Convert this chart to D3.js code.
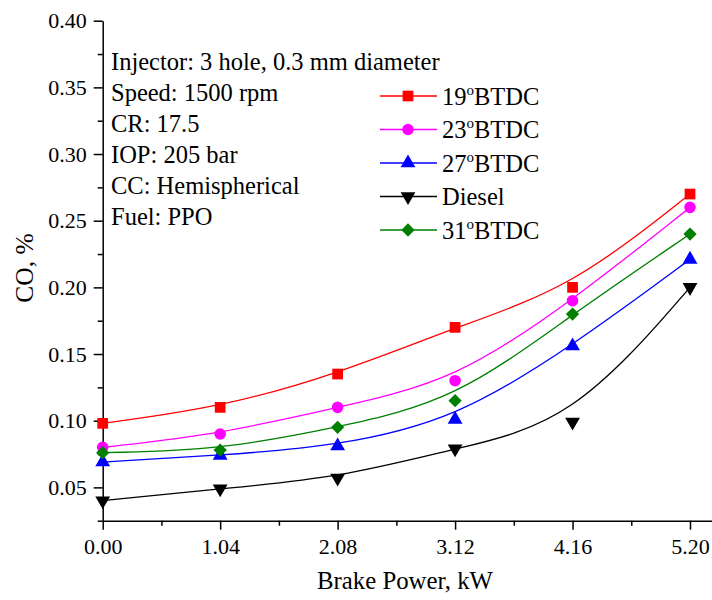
<!DOCTYPE html>
<html>
<head>
<meta charset="utf-8">
<script src="https://cdn.jsdelivr.net/npm/d3@7"></script>
<style>
  body { margin: 0; background: #fff; }
  svg { display: block; font-family: "Liberation Serif", "Times New Roman", serif; }
</style>
</head>
<body>
<svg id="chart" width="712" height="600"></svg>
<script>
// ---- data ----
const xValues = [0.00, 1.04, 2.08, 3.12, 4.16, 5.20];
const xTickLabels = ["0.00", "1.04", "2.08", "3.12", "4.16", "5.20"];
const yTickValues = [0.05, 0.10, 0.15, 0.20, 0.25, 0.30, 0.35, 0.40];

const seriesNames = ["19", "23", "27", "Diesel", "31"];
const btdc19 = [0.098, 0.110, 0.135, 0.170, 0.200, 0.270];
const btdc23 = [0.080, 0.090, 0.110, 0.130, 0.190, 0.260];
const btdc27 = [0.069, 0.074, 0.081, 0.101, 0.156, 0.221];
const diesel = [0.040, 0.049, 0.057, 0.079, 0.099, 0.200];
const btdc31 = [0.076, 0.078, 0.095, 0.115, 0.180, 0.240];

const annotationLines = [
  "Injector: 3 hole, 0.3 mm diameter",
  "Speed: 1500 rpm",
  "CR: 17.5",
  "IOP: 205 bar",
  "CC: Hemispherical",
  "Fuel: PPO"
];

const series = [
  { name: seriesNames[0], deg: true,  values: btdc19, color: "#ff0000", symbol: d3.symbolSquare,   size: 115, rot: 0 },
  { name: seriesNames[1], deg: true,  values: btdc23, color: "#ff00ff", symbol: d3.symbolCircle,   size: 105, rot: 0 },
  { name: seriesNames[2], deg: true,  values: btdc27, color: "#0000ff", symbol: d3.symbolTriangle, size: 95,  rot: 0 },
  { name: seriesNames[3], deg: false, values: diesel, color: "#000000", symbol: d3.symbolTriangle, size: 95,  rot: 180 },
  { name: seriesNames[4], deg: true,  values: btdc31, color: "#008000", symbol: d3.symbolSquare,   size: 88,  rot: 45 }
];

// ---- layout ----
const svg = d3.select("#chart");
const x = d3.scaleLinear().domain([0, 5.4]).range([102.7, 712.6]);
const y = d3.scaleLinear().domain([0.025, 0.40]).range([520.7, 20.7]);

const axisColor = "#000";

// minor ticks
const xMinor = d3.range(0, 11).map(i => i * 0.52).filter(v => v <= 5.4 && Math.round(v / 0.52) % 2 === 1);
const yMinor = d3.range(0, 16).map(i => 0.025 + i * 0.05).filter(v => v <= 0.40);

const gx = svg.append("g").attr("transform", `translate(0,${y(0.025)})`);
gx.call(d3.axisBottom(x).tickValues(xMinor).tickSize(5).tickSizeOuter(0).tickFormat(""));
gx.call(g => g.select(".domain").remove());
const gx2 = svg.append("g").attr("transform", `translate(0,${y(0.025)})`);
gx2.call(d3.axisBottom(x).tickValues(xValues).tickSize(9).tickSizeOuter(0).tickPadding(9)
  .tickFormat((d, i) => xTickLabels[i]));

const gy = svg.append("g").attr("transform", `translate(${x(0)},0)`);
gy.call(d3.axisLeft(y).tickValues(yMinor).tickSize(5).tickSizeOuter(0).tickFormat(""));
gy.call(g => g.select(".domain").remove());
const gy2 = svg.append("g").attr("transform", `translate(${x(0)},0)`);
gy2.call(d3.axisLeft(y).tickValues(yTickValues).tickSize(9).tickSizeOuter(0).tickPadding(7)
  .tickFormat(d3.format(".2f")));

svg.selectAll(".domain").attr("stroke", axisColor).attr("stroke-width", 1.5);
svg.selectAll(".tick line").attr("stroke", axisColor).attr("stroke-width", 1.5);
svg.selectAll(".tick text").attr("font-size", 22).attr("fill", "#000")
  .attr("font-family", "Liberation Serif, Times New Roman, serif");

// axis titles
svg.append("text").attr("x", 405).attr("y", 589).attr("text-anchor", "middle")
  .attr("font-size", 24.8).text("Brake Power, kW");
svg.append("text").attr("transform", "translate(33,268) rotate(-90)").attr("text-anchor", "middle")
  .attr("font-size", 25.5).text("CO, %");

// curves (B-spline) and markers
const line = d3.line().x((d, i) => x(xValues[i])).y(d => y(d)).curve(d3.curveBasis);
series.forEach(s => {
  svg.append("path").attr("d", line(s.values)).attr("fill", "none")
    .attr("stroke", s.color).attr("stroke-width", 1.3);
});
series.forEach(s => {
  svg.append("g").selectAll("path").data(s.values).join("path")
    .attr("d", d3.symbol().type(s.symbol).size(s.size))
    .attr("transform", (d, i) => `translate(${x(xValues[i])},${y(d)}) rotate(${s.rot})`)
    .attr("fill", s.color);
});

// annotation
const ann = svg.append("g");
annotationLines.forEach((t, i) => {
  ann.append("text").attr("x", 111).attr("y", 70 + i * 31).attr("font-size", 24.5).text(t);
});

// legend
const leg = svg.append("g");
series.forEach((s, i) => {
  const cy = 96 + i * 33.5;
  leg.append("line").attr("x1", 380).attr("x2", 437).attr("y1", cy).attr("y2", cy)
    .attr("stroke", s.color).attr("stroke-width", 1.3);
  leg.append("path").attr("d", d3.symbol().type(s.symbol).size(s.size))
    .attr("transform", `translate(408,${cy}) rotate(${s.rot})`).attr("fill", s.color);
  const t = leg.append("text").attr("x", 442).attr("y", cy + 8.5).attr("font-size", 24.5);
  if (s.deg) {
    t.append("tspan").text(s.name);
    t.append("tspan").attr("font-size", 15).attr("dy", -10).text("o");
    t.append("tspan").attr("dy", 10).text("BTDC");
  } else {
    t.text(s.name);
  }
});
</script>
</body>
</html>
